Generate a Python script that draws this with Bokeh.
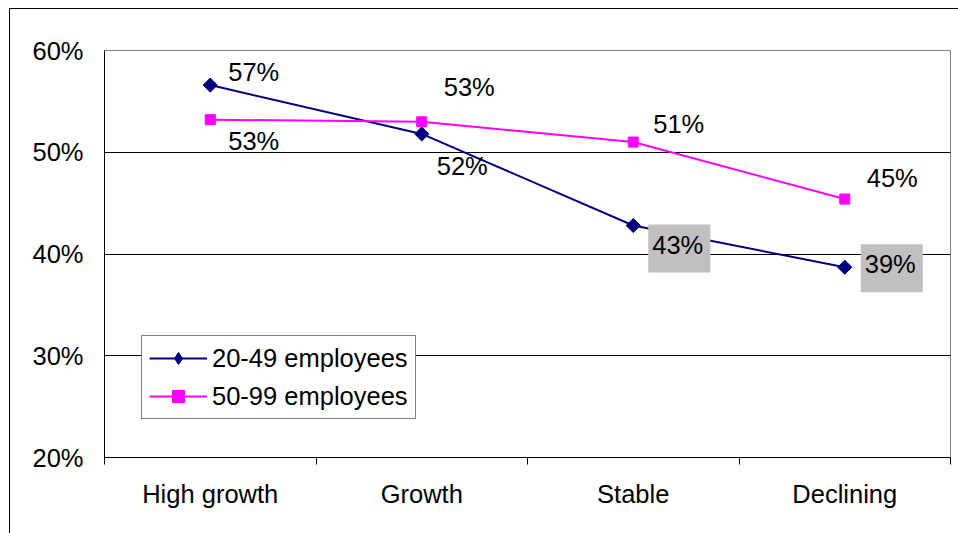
import math
from bokeh.plotting import figure
from bokeh.models import (Range1d, FixedTicker, NumeralTickFormatter, Label, Legend,
                          LegendItem, ColumnDataSource)
from bokeh.embed import file_html
from bokeh.resources import INLINE

categories = ["High growth", "Growth", "Stable", "Declining"]
series_names = ["20-49 employees", "50-99 employees"]
small_vals = [0.566, 0.518, 0.428, 0.387]
mid_vals = [0.532, 0.530, 0.510, 0.454]
y_ticks = [0.2, 0.3, 0.4, 0.5, 0.6]

FONT = "Liberation Sans"
FS = "25.5px"

xs = [i + 0.5 for i in range(len(categories))]

p = figure(width=949, height=525, frame_width=846, frame_height=407,
           min_border_left=94, min_border_right=9, min_border_top=41, min_border_bottom=77,
           x_range=Range1d(0, len(categories)), y_range=Range1d(y_ticks[0], y_ticks[-1]),
           output_backend="svg", toolbar_location=None)
p.margin = (8, 0, 0, 9)
p.styles = {"border-left": "1px solid black", "border-top": "1px solid black"}
p.background_fill_color = "white"
p.border_fill_color = "white"
p.outline_line_color = "#808080"
p.outline_line_width = 1

# axes
p.xaxis.ticker = FixedTicker(ticks=xs, minor_ticks=list(range(len(categories) + 1)))
p.xaxis.major_label_overrides = {x: c for x, c in zip(xs, categories)}
p.xaxis.major_tick_out = 0
p.xaxis.major_tick_in = 0
p.xaxis.minor_tick_line_color = "black"
p.xaxis.minor_tick_out = 7
p.xaxis.minor_tick_in = 0
p.xaxis.major_label_standoff = 15

p.yaxis.ticker = FixedTicker(ticks=y_ticks)
p.yaxis.formatter = NumeralTickFormatter(format="0%")
p.yaxis.major_tick_out = 7
p.yaxis.major_tick_in = 0
p.yaxis.minor_tick_line_color = None
p.yaxis.major_label_standoff = 14

for ax in (p.xaxis, p.yaxis):
    ax.axis_line_color = "black"
    ax.axis_line_width = 1
    ax.major_tick_line_color = "black" if ax is p.yaxis else None
    ax.major_label_text_font = FONT
    ax.major_label_text_font_size = FS
    ax.major_label_text_color = "black"

p.xgrid.grid_line_color = None
p.ygrid.ticker = FixedTicker(ticks=y_ticks[1:-1])
p.ygrid.grid_line_color = "black"
p.ygrid.grid_line_width = 1

src = ColumnDataSource(dict(x=xs, a=small_vals, b=mid_vals))

la = p.line("x", "a", source=src, line_color="#000080", line_width=2)
# diamond used for the legend swatch (hidden under the rotated squares in the plot)
ma_leg = p.scatter("x", "a", source=src, marker="diamond", size=13,
                   fill_color="#000080", line_color="#000080")
ma = p.scatter("x", "a", source=src, marker="square", angle=math.pi / 4, size=10,
               fill_color="#000080", line_color="#000080")
lb = p.line("x", "b", source=src, line_color="#FF00FF", line_width=2)
mb = p.scatter("x", "b", source=src, marker="square", size=10, fill_color="#FF00FF",
               line_color="#FF00FF")

# data labels
offs_a = [(18, 13), (15, -32), (15, -23), (16, -1)]
offs_b = [(18, -21), (22, 35), (20, 18), (22, 21)]
boxed_a = [False, False, True, True]
for x, v, (dx, dy), bx in zip(xs, small_vals, offs_a, boxed_a):
    lab = Label(x=x, y=v, x_offset=dx, y_offset=dy, text=f"{round(v * 100)}%",
                text_font=FONT, text_font_size=FS, text_align="left",
                text_baseline="middle", text_color="black")
    if bx:
        lab.background_fill_color = "#C0C0C0"
        lab.padding = (4, 7, 6, 14)  # left, right, top, bottom
    p.add_layout(lab)
for x, v, (dx, dy) in zip(xs, mid_vals, offs_b):
    p.add_layout(Label(x=x, y=v, x_offset=dx, y_offset=dy, text=f"{round(v * 100)}%",
                       text_font=FONT, text_font_size=FS, text_align="left",
                       text_baseline="middle", text_color="black"))

legend = Legend(items=[LegendItem(label=series_names[0], renderers=[la, ma_leg]),
                       LegendItem(label=series_names[1], renderers=[lb, mb])],
                location=(37, 38), orientation="vertical")
legend.label_text_font = FONT
legend.label_text_font_size = FS
legend.label_text_color = "black"
legend.border_line_color = "black"
legend.border_line_width = 1
legend.background_fill_color = "white"
legend.background_fill_alpha = 1
legend.padding = 7
legend.spacing = 8
legend.label_height = 30
legend.glyph_height = 30
legend.glyph_width = 58
legend.label_standoff = 5
legend.margin = 0
p.add_layout(legend, "center")

open("out.html", "w").write(file_html(p, INLINE))
